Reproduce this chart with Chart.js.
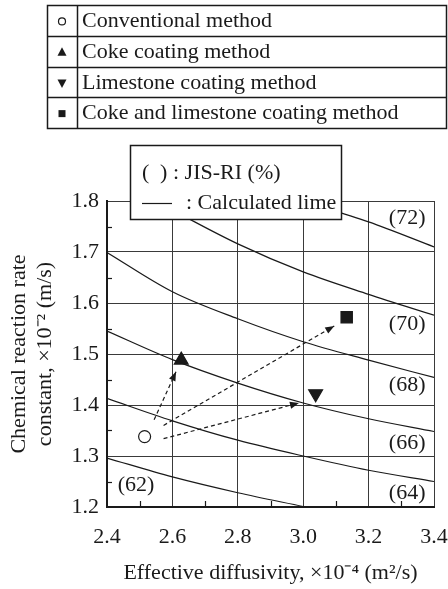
<!DOCTYPE html>
<html>
<head>
<meta charset="utf-8">
<script src="https://cdn.jsdelivr.net/npm/chart.js@4.4.0/dist/chart.umd.min.js"></script>
<style>
  html, body { margin: 0; padding: 0; background: #fff; }
</style>
</head>
<body>
<canvas id="myChart" width="448" height="589"></canvas>
<script>
// methods shown in the table and as points
const methods = ['Conventional method', 'Coke coating method', 'Limestone coating method', 'Coke and limestone coating method'];
const methodDiffusivity = [2.515, 2.627, 3.038, 3.133];
const methodRate = [1.338, 1.488, 1.422, 1.572];

// calculated JIS-RI lines, sampled on the same diffusivity values
const diffusivity = [2.4, 2.6, 2.8, 3.0, 3.2, 3.4];
const ri62 = [1.296, 1.259, 1.228, 1.201, null, null];
const ri64 = [1.413, 1.369, 1.331, 1.300, 1.272, 1.250];
const ri66 = [1.545, 1.489, 1.443, 1.404, 1.373, 1.348];
const ri68 = [1.699, 1.622, 1.569, 1.524, 1.488, 1.454];
const ri70 = [null, 1.782, 1.716, 1.661, 1.617, 1.576];
const ri72 = [null, null, null, 1.800, 1.759, 1.710];

// where the (xx) labels sit, in data units
const riNames = ['(62)', '(64)', '(66)', '(68)', '(70)', '(72)'];
const riLabelX = [2.489, 3.318, 3.318, 3.318, 3.318, 3.318];
const riLabelY = [1.243, 1.228, 1.326, 1.439, 1.558, 1.766];

// dashed arrows from the conventional point
const arrowFromX = [2.544, 2.573, 2.573];
const arrowFromY = [1.371, 1.360, 1.334];
const arrowToX = [2.611, 3.095, 2.987];
const arrowToY = [1.465, 1.555, 1.404];

const FONT = "'Liberation Serif', 'Times New Roman', serif";
const INK = '#1a1a1a';

function curve(ys) {
    return diffusivity.map((x, i) => ({ x: x, y: ys[i] }));
}

const curveSets = [ri62, ri64, ri66, ri68, ri70, ri72].map(ys => ({
    data: curve(ys),
    showLine: true,
    borderColor: INK,
    borderWidth: 1.2,
    pointRadius: 0,
    cubicInterpolationMode: 'monotone',
    spanGaps: false
}));

const arrowSets = arrowToX.map((tx, i) => ({
    data: [{ x: arrowFromX[i], y: arrowFromY[i] }, { x: tx, y: arrowToY[i] }],
    showLine: true,
    borderColor: INK,
    borderWidth: 1.2,
    borderDash: [4, 3],
    pointRadius: 0
}));

const markStyle = [
    { pointStyle: 'circle', radius: 6, fill: '#fff', rot: 0 },
    { pointStyle: 'triangle', radius: 8, fill: INK, rot: 0 },
    { pointStyle: 'triangle', radius: 8, fill: INK, rot: 180 },
    { pointStyle: 'rect', radius: 8, fill: INK, rot: 0 }
];

const pointSets = methods.map((m, i) => ({
    label: m,
    data: [{ x: methodDiffusivity[i], y: methodRate[i] }],
    pointStyle: markStyle[i].pointStyle,
    pointRadius: markStyle[i].radius,
    pointRotation: markStyle[i].rot,
    backgroundColor: markStyle[i].fill,
    borderColor: INK,
    borderWidth: 1.2
}));

function line(ctx, x1, y1, x2, y2) {
    ctx.beginPath();
    ctx.moveTo(x1, y1);
    ctx.lineTo(x2, y2);
    ctx.stroke();
}

function smallMark(ctx, kind, cx, cy) {
    ctx.beginPath();
    if (kind === 0) {
        ctx.arc(cx, cy, 3.5, 0, Math.PI * 2);
        ctx.lineWidth = 1.2;
        ctx.stroke();
        return;
    }
    if (kind === 1) {
        ctx.moveTo(cx, cy - 5); ctx.lineTo(cx + 4.5, cy + 3.5); ctx.lineTo(cx - 4.5, cy + 3.5);
    } else if (kind === 2) {
        ctx.moveTo(cx, cy + 5); ctx.lineTo(cx + 4.5, cy - 3.5); ctx.lineTo(cx - 4.5, cy - 3.5);
    } else {
        ctx.rect(cx - 3.5, cy - 3.5, 7, 7);
    }
    ctx.closePath();
    ctx.fill();
}

const overlay = {
    id: 'overlay',
    afterDatasetsDraw(chart) {
        const ctx = chart.ctx;
        const x = chart.scales.x, y = chart.scales.y, a = chart.chartArea;
        ctx.save();
        ctx.strokeStyle = INK;
        ctx.fillStyle = INK;
        ctx.lineWidth = 1.2;

        // minor ticks pointing inward
        for (let k = 0; k < 6; k++) {
            const py = Math.round(y.getPixelForValue(1.25 + k * 0.1)) + 0.5;
            line(ctx, a.left, py, a.left + 5, py);
        }
        for (let k = 0; k < 5; k++) {
            const px = Math.round(x.getPixelForValue(2.5 + k * 0.2)) + 0.5;
            line(ctx, px, a.bottom, px, a.bottom - 6);
        }

        // arrow heads
        arrowToX.forEach((tx, i) => {
            const x1 = x.getPixelForValue(arrowFromX[i]), y1 = y.getPixelForValue(arrowFromY[i]);
            const x2 = x.getPixelForValue(tx), y2 = y.getPixelForValue(arrowToY[i]);
            const ang = Math.atan2(y2 - y1, x2 - x1);
            const c = Math.cos(ang), s = Math.sin(ang);
            ctx.beginPath();
            ctx.moveTo(x2, y2);
            ctx.lineTo(x2 - 9 * c - 3.5 * s, y2 - 9 * s + 3.5 * c);
            ctx.lineTo(x2 - 9 * c + 3.5 * s, y2 - 9 * s - 3.5 * c);
            ctx.closePath();
            ctx.fill();
        });

        // JIS-RI labels
        ctx.font = '22px ' + FONT;
        ctx.textAlign = 'center';
        ctx.textBaseline = 'middle';
        riNames.forEach((t, i) => {
            ctx.fillText(t, x.getPixelForValue(riLabelX[i]), y.getPixelForValue(riLabelY[i]));
        });
        ctx.restore();
    },
    afterDraw(chart) {
        const ctx = chart.ctx;
        ctx.save();
        ctx.strokeStyle = INK;
        ctx.fillStyle = INK;
        ctx.font = '22px ' + FONT;
        ctx.textBaseline = 'middle';
        ctx.textAlign = 'left';

        // key box inside the plot
        ctx.fillStyle = '#fff';
        ctx.fillRect(130, 145, 212, 75);
        ctx.lineWidth = 1.5;
        ctx.strokeRect(130.5, 145.5, 211, 74);
        ctx.fillStyle = INK;
        ctx.fillText('(', 142, 173);
        ctx.fillText(')', 160, 173);
        ctx.fillText(': JIS-RI (%)', 173, 173);
        ctx.lineWidth = 1.2;
        line(ctx, 142, 203.5, 172, 203.5);
        ctx.fillText(': Calculated lime', 186, 203);

        // method table on top
        const top = 5, rowH = 30.75, left = 47, right = 447, split = 77;
        ctx.lineWidth = 1.5;
        ctx.strokeRect(left + 0.5, top + 0.5, right - left - 1, rowH * 4);
        line(ctx, split + 0.5, top, split + 0.5, top + rowH * 4);
        for (let r = 1; r < 4; r++) {
            const py = Math.round(top + rowH * r) + 0.5;
            line(ctx, left, py, right, py);
        }
        methods.forEach((m, i) => {
            const cy = top + rowH * i + rowH / 2 + 1;
            smallMark(ctx, i, 62, cy);
            ctx.fillText(m, 82, cy);
        });
        ctx.restore();
    }
};

const ctx = document.getElementById('myChart').getContext('2d');
const myChart = new Chart(ctx, {
    type: 'scatter',
    data: { datasets: [...curveSets, ...arrowSets, ...pointSets] },
    options: {
        responsive: false,
        animation: false,
        devicePixelRatio: 1,
        layout: { padding: { top: 201, right: 0, left: 0, bottom: 0 } },
        plugins: { legend: { display: false }, tooltip: { enabled: false } },
        scales: {
            x: {
                type: 'linear',
                min: 2.4,
                max: 3.4,
                afterFit: s => { s.height = 82; s.paddingRight = 14; s.paddingLeft = 0; },
                ticks: {
                    stepSize: 0.2,
                    callback: v => v.toFixed(1),
                    font: { family: FONT, size: 22 },
                    color: INK,
                    padding: 17,
                    maxRotation: 0
                },
                grid: { color: '#3a3a3a', lineWidth: 1, drawTicks: false },
                border: { color: INK, width: 2 },
                title: {
                    display: true,
                    text: 'Effective diffusivity, ×10⁻⁴ (m²/s)',
                    font: { family: FONT, size: 22 },
                    color: INK,
                    padding: { top: 0, bottom: 3 }
                }
            },
            y: {
                min: 1.2,
                max: 1.8,
                afterFit: s => { s.width = 107; },
                ticks: {
                    stepSize: 0.1,
                    callback: v => v.toFixed(1),
                    font: { family: FONT, size: 22 },
                    color: INK,
                    padding: 8
                },
                grid: { color: '#3a3a3a', lineWidth: 1, drawTicks: false },
                border: { color: INK, width: 2 },
                title: {
                    display: true,
                    text: ['Chemical reaction rate', 'constant, ×10⁻² (m/s)'],
                    font: { family: FONT, size: 22, lineHeight: 1.15 },
                    color: INK,
                    padding: { top: 7, bottom: 0 }
                }
            }
        }
    },
    plugins: [overlay]
});
</script>
</body>
</html>
